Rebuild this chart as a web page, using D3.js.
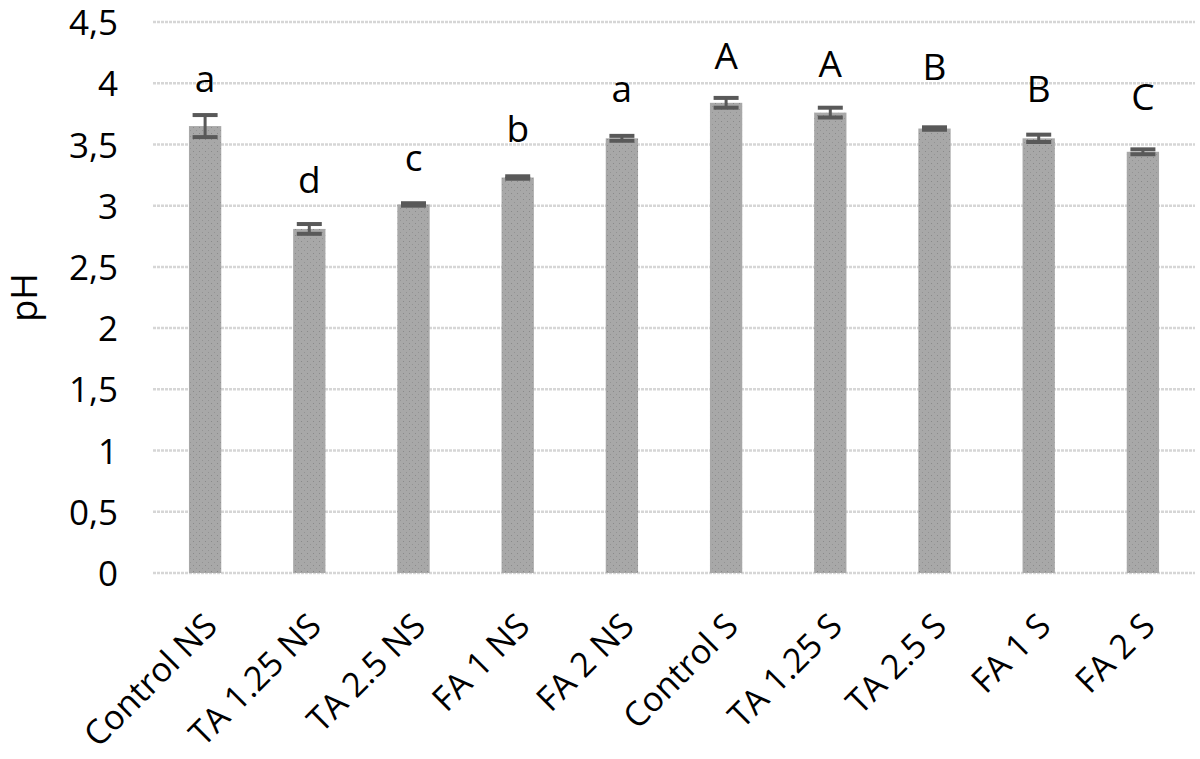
<!DOCTYPE html>
<html>
<head>
<meta charset="utf-8">
<script src="https://cdn.jsdelivr.net/npm/d3@7"></script>
<style>
  html, body { margin: 0; padding: 0; background: #fff; }
  svg text { font-family: "Open Sans", "Noto Sans", sans-serif; fill: #000; }
</style>
</head>
<body>
<svg id="chart" width="1200" height="759"></svg>
<script>
const categories = ["Control NS", "TA 1.25 NS", "TA 2.5 NS", "FA 1 NS", "FA 2 NS",
                    "Control S", "TA 1.25 S", "TA 2.5 S", "FA 1 S", "FA 2 S"];
const phValues = [3.65, 2.81, 3.01, 3.23, 3.55, 3.84, 3.76, 3.63, 3.55, 3.44];
const phErrors = [0.09, 0.04, 0.01, 0.01, 0.02, 0.04, 0.04, 0.01, 0.03, 0.02];
const groupLetters = ["a", "d", "c", "b", "a", "A", "A", "B", "B", "C"];
// pH level (data units) at which each significance letter sits
const letterLevels = [3.93, 3.10, 3.28, 3.52, 3.85, 4.12, 4.05, 4.03, 3.85, 3.78];
const yTicks = [0, 0.5, 1, 1.5, 2, 2.5, 3, 3.5, 4, 4.5];
const yTickLabels = ["0", "0,5", "1", "1,5", "2", "2,5", "3", "3,5", "4", "4,5"];
const yAxisTitle = "pH";

const svg = d3.select("#chart");
const margin = {left: 153, right: 5, top: 22, bottom: 186};
const W = 1200, H = 759;

const x = d3.scaleBand().domain(categories).range([margin.left, W - margin.right])
  .paddingInner(0.69).paddingOuter(0.345);
const y = d3.scaleLinear().domain([0, 4.5]).range([H - margin.bottom, margin.top]);

// pattern for bars
const defs = svg.append("defs");
const pat = defs.append("pattern").attr("id", "dots").attr("patternUnits", "userSpaceOnUse")
  .attr("width", 6).attr("height", 6);
pat.append("rect").attr("width", 6).attr("height", 6).attr("fill", "#a8a8a8");
pat.append("rect").attr("x", 1).attr("y", 1).attr("width", 1).attr("height", 1).attr("fill", "#8a8a8a");
pat.append("rect").attr("x", 4).attr("y", 4).attr("width", 1).attr("height", 1).attr("fill", "#939393");

// gridlines
svg.append("g").selectAll("line").data(yTicks).join("line")
  .attr("x1", margin.left).attr("x2", W - margin.right)
  .attr("y1", d => y(d)).attr("y2", d => y(d))
  .attr("stroke", "#d6d6d6").attr("stroke-width", 2.5)
  .attr("stroke-dasharray", "3,1");

// y axis labels
const yAxis = d3.axisLeft(y).tickValues(yTicks).tickFormat((d, i) => yTickLabels[i]).tickSize(0).tickPadding(0);
const gy = svg.append("g").attr("transform", `translate(118,0)`).call(yAxis);
gy.select(".domain").remove();
gy.selectAll("text").attr("font-size", 35).attr("font-family", "Open Sans, sans-serif")
  .attr("fill", "#000").attr("dy", "0.36em");

// y axis title
svg.append("text").attr("transform", `translate(37, ${y(2.25)}) rotate(-90)`)
  .attr("text-anchor", "middle").attr("font-size", 36).text(yAxisTitle);

// bars
const bars = svg.append("g");
bars.selectAll("rect").data(categories).join("rect")
  .attr("x", d => x(d)).attr("width", x.bandwidth())
  .attr("y", (d, i) => y(phValues[i]))
  .attr("height", (d, i) => y(0) - y(phValues[i]))
  .attr("fill", "url(#dots)");

// error bars
const eb = svg.append("g").attr("stroke", "#595959");
categories.forEach((c, i) => {
  const cx = x(c) + x.bandwidth() / 2;
  const top = y(phValues[i] + phErrors[i]);
  const bot = y(phValues[i] - phErrors[i]);
  eb.append("line").attr("x1", cx).attr("x2", cx).attr("y1", top).attr("y2", bot).attr("stroke-width", 3);
  eb.append("line").attr("x1", cx - 12.5).attr("x2", cx + 12.5).attr("y1", top).attr("y2", top).attr("stroke-width", 4);
  eb.append("line").attr("x1", cx - 12.5).attr("x2", cx + 12.5).attr("y1", bot).attr("y2", bot).attr("stroke-width", 4);
});

// group letters
svg.append("g").selectAll("text").data(categories).join("text")
  .attr("x", d => x(d) + x.bandwidth() / 2)
  .attr("y", (d, i) => y(letterLevels[i]))
  .attr("text-anchor", "middle").attr("font-size", 37)
  .text((d, i) => groupLetters[i]);

// x axis labels
const xAxis = d3.axisBottom(x).tickSize(0).tickPadding(0);
const gx = svg.append("g").attr("transform", `translate(0, ${y(0)})`).call(xAxis);
gx.select(".domain").remove();
gx.selectAll("text")
  .attr("font-size", 34).attr("font-family", "Open Sans, sans-serif").attr("fill", "#000")
  .attr("text-anchor", "end")
  .attr("transform", "translate(14, 55) rotate(-45)")
  .attr("dy", 0).attr("x", 0).attr("y", 0);
</script>
</body>
</html>
